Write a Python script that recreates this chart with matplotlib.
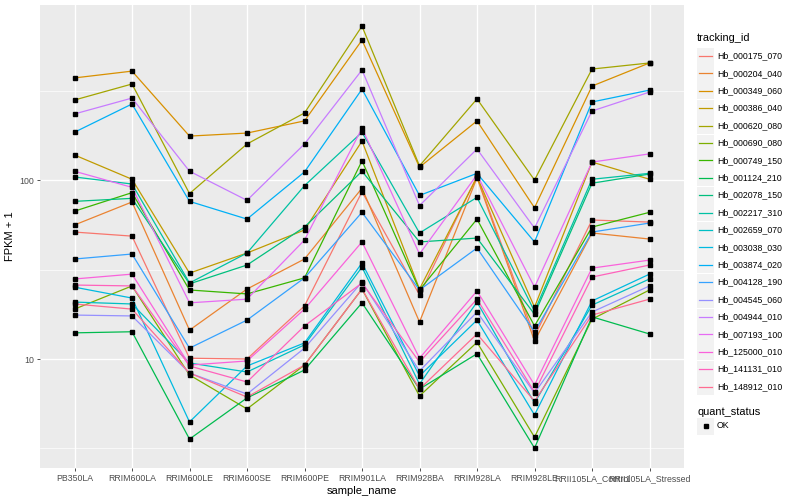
import numpy as np
import matplotlib
matplotlib.use("Agg")
import matplotlib.pyplot as plt
from matplotlib.patches import Rectangle
from matplotlib.ticker import FixedLocator, NullFormatter

plt.rcParams['font.family'] = ['Liberation Sans', 'DejaVu Sans']

# Data (FPKM + 1, log scale)
samples = ["PB350LA", "RRIM600LA", "RRIM600LE", "RRIM600SE", "RRIM600PE", "RRIM901LA",
           "RRIM928BA", "RRIM928LA", "RRIM928LE", "RRII105LA_Control", "RRII105LA_Stressed"]

tracking_ids = ["Hb_000175_070", "Hb_000204_040", "Hb_000349_060", "Hb_000386_040",
                "Hb_000620_080", "Hb_000690_080", "Hb_000749_150", "Hb_001124_210",
                "Hb_002078_150", "Hb_002217_310", "Hb_002659_070", "Hb_003038_030",
                "Hb_003874_020", "Hb_004128_190", "Hb_004545_060", "Hb_004944_010",
                "Hb_007193_100", "Hb_125000_010", "Hb_141131_010", "Hb_148912_010"]

hb_000175_070 = [51.2, 48.6, 10.1, 10.0, 19.8, 86, 22.8, 105, 13.4, 59.8, 58.2]
hb_000204_040 = [56.1, 75.4, 14.5, 24.6, 36.2, 90, 16.1, 103, 12.6, 50.6, 46.8]
hb_000349_060 = [372, 406, 176, 183, 214, 605, 118, 214, 70, 335, 451]
hb_000386_040 = [138, 101, 30.2, 39.1, 52.6, 165, 24.6, 104, 19.5, 126, 101]
hb_000620_080 = [280, 344, 84, 159, 237, 724, 120, 284, 100, 417, 451]
hb_000690_080 = [19.0, 25.6, 8.14, 5.26, 9.25, 24.6, 6.21, 12.4, 3.66, 16.7, 24.3]
hb_000749_150 = [67, 85, 24.3, 23.1, 28.4, 128, 24.3, 60.5, 15.3, 54.6, 66]
hb_001124_210 = [14.0, 14.2, 3.57, 6.06, 8.68, 20.6, 6.79, 10.7, 3.18, 17.2, 13.8]
hb_002078_150 = [76, 79, 26.3, 33.5, 54.6, 112, 45.1, 47.4, 17.8, 96, 108]
hb_002217_310 = [104, 95, 26.6, 39.1, 93, 185, 50.6, 80, 18.5, 101, 109]
hb_002659_070 = [20.8, 20.3, 9.50, 8.46, 12.0, 32.6, 7.25, 20.8, 5.68, 20.0, 28.0]
hb_003038_030 = [25.2, 21.9, 4.45, 9.14, 12.3, 34.4, 8.04, 16.5, 4.87, 21.1, 29.8]
hb_003874_020 = [185, 266, 76, 60.5, 111, 322, 82, 109, 45.1, 273, 318]
hb_004128_190 = [36.2, 38.6, 11.5, 16.5, 28.4, 66, 24.3, 41.7, 14.2, 51.2, 57.5]
hb_004545_060 = [17.6, 17.4, 8.35, 6.37, 11.5, 26.9, 8.57, 18.3, 6.46, 18.3, 25.6]
hb_004944_010 = [234, 287, 112, 77, 159, 412, 72, 149, 53.9, 243, 310]
hb_007193_100 = [112, 91, 20.6, 21.6, 46.2, 195, 38.6, 107, 25.2, 126, 140]
hb_125000_010 = [28.0, 29.8, 9.25, 9.75, 19.0, 45.1, 10.1, 24.0, 7.16, 32.2, 35.7]
hb_141131_010 = [25.9, 25.6, 9.14, 7.44, 15.3, 26.6, 9.62, 21.6, 6.54, 28.7, 33.5]
hb_148912_010 = [20.3, 19.0, 8.35, 6.13, 9.25, 24.6, 6.79, 13.8, 5.82, 17.6, 21.6]

series = [hb_000175_070, hb_000204_040, hb_000349_060, hb_000386_040, hb_000620_080,
          hb_000690_080, hb_000749_150, hb_001124_210, hb_002078_150, hb_002217_310,
          hb_002659_070, hb_003038_030, hb_003874_020, hb_004128_190, hb_004545_060,
          hb_004944_010, hb_007193_100, hb_125000_010, hb_141131_010, hb_148912_010]

# ggplot2 default hue palette for 20 levels
colors = ["#F8766D", "#EA8331", "#D89000", "#C09B00", "#A3A500", "#7CAE00", "#39B600",
          "#00BB4E", "#00BF7D", "#00C1A3", "#00BFC4", "#00BAE0", "#00B0F6", "#35A2FF",
          "#9590FF", "#C77CFF", "#E76BF3", "#FA62DB", "#FF62BC", "#FF6C91"]

W, H = 800, 500
fig = plt.figure(figsize=(8, 5), dpi=100)
ax = fig.add_axes([40 / W, 1 - 468 / H, (684 - 40) / W, (468 - 5) / H])
ax.set_facecolor("#EBEBEB")

x = np.arange(len(samples))
for vals, col in zip(series, colors):
    ax.plot(x, vals, color=col, lw=0.9, zorder=3)
for vals in series:
    ax.plot(x, vals, ls="none", marker="s", ms=2.4, color="black", zorder=4)

ax.set_yscale("log")
ax.set_ylim(10 ** 0.391, 10 ** 2.978)
ax.set_xlim(-0.6, len(samples) - 0.4)
ax.yaxis.set_major_locator(FixedLocator([10, 100]))
ax.yaxis.set_minor_locator(FixedLocator([10 ** 0.5, 10 ** 1.5, 10 ** 2.5]))
ax.yaxis.set_minor_formatter(NullFormatter())
ax.set_yticklabels(["10", "100"])
ax.set_xticks(x)
ax.set_xticklabels(samples)

ax.grid(True, which="major", color="white", lw=1.0, zorder=1)
ax.grid(True, which="minor", axis="y", color="white", lw=0.5, zorder=1)
ax.set_axisbelow(True)
for s in ax.spines.values():
    s.set_visible(False)
ax.tick_params(axis="both", which="major", length=2.5, width=0.6, color="#333333",
               labelsize=6.3, labelcolor="#4D4D4D", pad=2)
ax.tick_params(axis="y", which="minor", length=0)

ax.set_xlabel("sample_name", fontsize=8, labelpad=2)
ax.set_ylabel("FPKM + 1", fontsize=8, labelpad=3)

# legend drawn in pixel coordinates
lax = fig.add_axes([0, 0, 1, 1])
lax.set_xlim(0, W)
lax.set_ylim(H, 0)
lax.axis("off")

lax.text(697, 38, "tracking_id", fontsize=7.9, va="center", ha="left")
step = 17.4
for i, (name, col) in enumerate(zip(tracking_ids, colors)):
    cy = 56 + i * step
    lax.add_patch(Rectangle((697, cy - 8.5), 17, 17, facecolor="#F2F2F2", edgecolor="none"))
    lax.plot([699, 712], [cy, cy], color=col, lw=0.9)
    lax.text(717, cy, name, fontsize=6.3, va="center", ha="left")

lax.text(697, 412, "quant_status", fontsize=7.9, va="center", ha="left")
lax.add_patch(Rectangle((697, 417.5), 17, 17, facecolor="#F2F2F2", edgecolor="none"))
lax.plot([705.5], [426], ls="none", marker="s", ms=2.4, color="black")
lax.text(717, 426, "OK", fontsize=6.3, va="center", ha="left")

fig.savefig("out.png", dpi=100)
